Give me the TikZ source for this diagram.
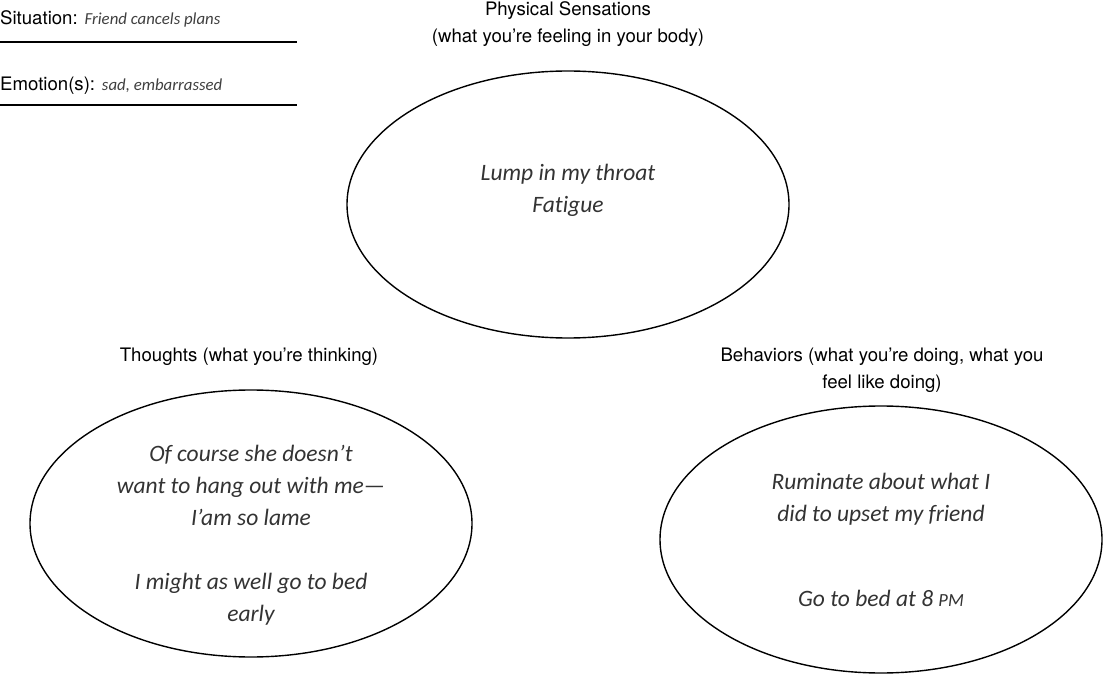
\documentclass[tikz,border=0pt]{standalone}
\usepackage{fontspec}
\setmainfont{TeX Gyre Heros}
\newfontfamily\handfont[Ligatures=NoCommon]{Carlito}
\usetikzlibrary{shapes.geometric}
\tikzset{
  headtext/.style={font=\fontsize{18.6}{27.5}\selectfont, align=center, inner sep=0pt, text=black},
  hand/.style={font=\handfont\itshape\fontsize{23.5}{32}\selectfont, align=center, inner sep=0pt, text=black!80},
  bubble/.style={draw=black, ellipse, line width=1.4pt, minimum width=442pt, minimum height=267pt, inner sep=0pt},
  writeline/.style={line width=1.8pt, draw=black}
}
\begin{document}
\begin{tikzpicture}[x=1pt,y=-1pt]
\useasboundingbox[fill=white] (0,0) rectangle (1103,676);

% header fields
\node[headtext, anchor=base west] (sit) at (0,25) {Situation: {\handfont\itshape\fontsize{16.8}{20}\selectfont\color{black!75}Friend cancels plans}};
\coordinate (l1a) at (0,42);
\coordinate (l1b) at (297,42);
\draw[writeline] (l1a) -- (l1b);
\node[headtext, anchor=base west] (emo) at (0,91) {Emotion(s): {\handfont\itshape\fontsize{16.8}{20}\selectfont\color{black!75}sad, embarrassed}};
\coordinate (l2a) at (0,105);
\coordinate (l2b) at (297,105);
\draw[writeline] (l2a) -- (l2b);

% physical sensations
\node[headtext] (phyhead) at (568,24) {Physical Sensations\\(what you’re feeling in your body)};
\node[bubble] (phy) at (568,204.5) {};
\node[hand] (phytext) at (568,190) {Lump in my throat\\Fatigue};

% thoughts
\node[headtext] (thohead) at (249,357) {Thoughts (what you’re thinking)};
\node[bubble] (tho) at (251,523.5) {};
\node[hand] (thotext) at (251,535) {Of course she doesn’t\\want to hang out with me—\\I’am so lame\\[32pt]I might as well go to bed\\early};

% behaviors
\node[headtext] (behhead) at (882,370) {Behaviors (what you’re doing, what you\\feel like doing)};
\node[bubble] (beh) at (881,539.5) {};
\node[hand] (behtext) at (881,540) {Ruminate about what I\\did to upset my friend\\[53pt]Go to bed at 8 {\fontsize{18.5}{20}\selectfont PM}};
\end{tikzpicture}
\end{document}
